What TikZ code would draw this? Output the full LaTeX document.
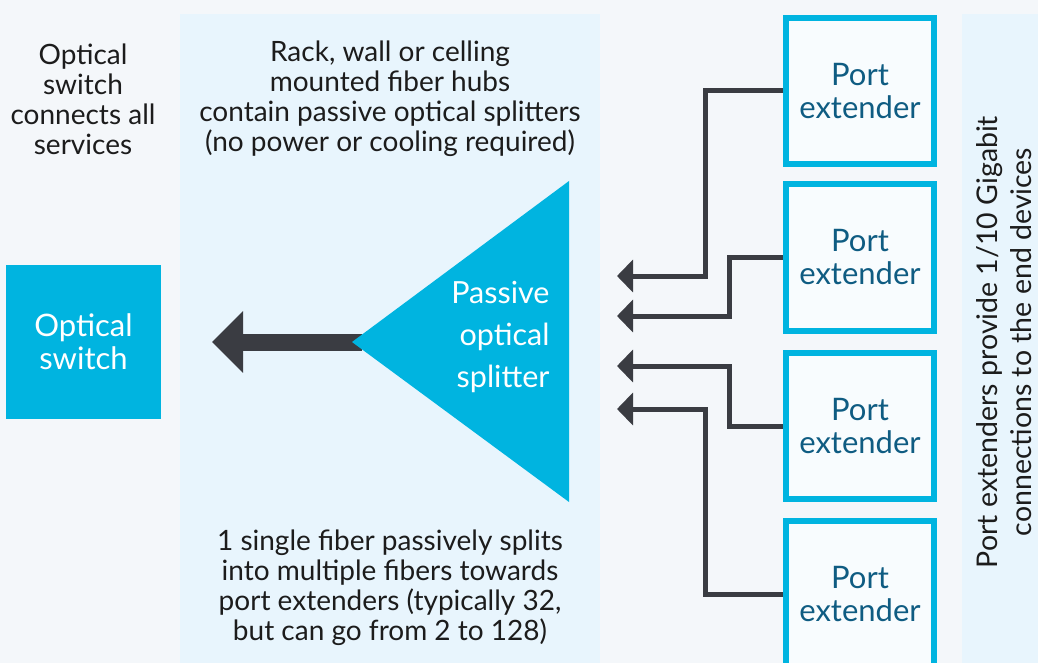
\documentclass[tikz,border=0pt]{standalone}
\usepackage{fontspec}
\setmainfont{Lato}
\usepackage{tikz}
\usetikzlibrary{arrows.meta}
\definecolor{cyanbox}{HTML}{00B4E0}
\definecolor{panel}{HTML}{E8F5FD}
\definecolor{backgr}{HTML}{F4F7FA}
\definecolor{fiber}{HTML}{3A3C42}
\definecolor{petext}{HTML}{0F5C82}
\definecolor{txt}{HTML}{1C1C1C}
\tikzset{
  note/.style={align=center, text=txt, font=\fontsize{28}{30}\selectfont},
  swbox/.style={rectangle, fill=cyanbox, text=white, minimum width=155pt, minimum height=154pt, align=center, font=\fontsize{31}{33}\selectfont},
  pebox/.style={rectangle, draw=cyanbox, line width=6pt, fill=white!70!panel, text=petext, minimum width=148pt, minimum height=146pt, align=center, font=\fontsize{31}{33}\selectfont},
  fiberline/.style={draw=fiber, line width=5pt, -{Triangle[length=16pt,width=32pt]}},
  bigarrow/.style={draw=fiber, line width=17pt, -{Triangle[length=31pt,width=60pt]}}
}
\begin{document}
\begin{tikzpicture}[x=1pt,y=-1pt]
\useasboundingbox (0,0) rectangle (1038,663);
\clip (0,0) rectangle (1038,663);
\fill[backgr] (0,0) rectangle (1038,663);
\fill[panel] (180,14) rectangle (600,663);
\fill[panel] (962,14) rectangle (1038,663);

\node[note](SW_txt) at (83,99) {Optical\\switch\\connects all\\services};
\node[note](HUB_txt) at (390,99) {Rack, wall or celling\\mounted fiber hubs\\contain passive optical splitters\\(no power or cooling required)};
\node[note](FIB_txt) at (390,588) {1 single fiber passively splits\\into multiple fibers towards\\port extenders (typically 32,\\but can go from 2 to 128)};

\node[swbox](SW) at (83.5,341.5) {Optical\\switch};

\coordinate (SPL_apex) at (352,342);
\coordinate (SPL_top) at (569,181);
\coordinate (SPL_bot) at (569,502);
\coordinate (SW_in) at (212,342);
\draw[bigarrow] (362,342) -- (SW_in);
\fill[cyanbox] (SPL_apex) -- (SPL_top) -- (SPL_bot) -- cycle;
\node[align=right, text=white, anchor=east, font=\fontsize{30.5}{42}\selectfont](SPL) at (553,337) {Passive\\optical\\splitter};

\node[pebox](PE1) at (860,91) {Port\\extender};
\node[pebox](PE2) at (860,257.5) {Port\\extender};
\node[pebox](PE3) at (860,426) {Port\\extender};
\node[pebox](PE4) at (860,594) {Port\\extender};

\coordinate (bendA) at (705,0);
\coordinate (bendB) at (729,0);
\coordinate (SPL_in1) at (617,276);
\coordinate (SPL_in2) at (617,316);
\coordinate (SPL_in3) at (617,366);
\coordinate (SPL_in4) at (617,409);
\draw[fiberline] (PE1.west) -- (PE1.west -| bendA) |- (SPL_in1);
\draw[fiberline] (PE2.west) -- (PE2.west -| bendB) |- (SPL_in2);
\draw[fiberline] (PE3.west) -- (PE3.west -| bendB) |- (SPL_in3);
\draw[fiberline] (PE4.west) -- (PE4.west -| bendA) |- (SPL_in4);

\node[note, rotate=90, font=\fontsize{28.5}{34}\selectfont](PE_txt) at (1004,342) {Port extenders provide 1/10 Gigabit\\connections to the end devices};
\end{tikzpicture}
\end{document}
